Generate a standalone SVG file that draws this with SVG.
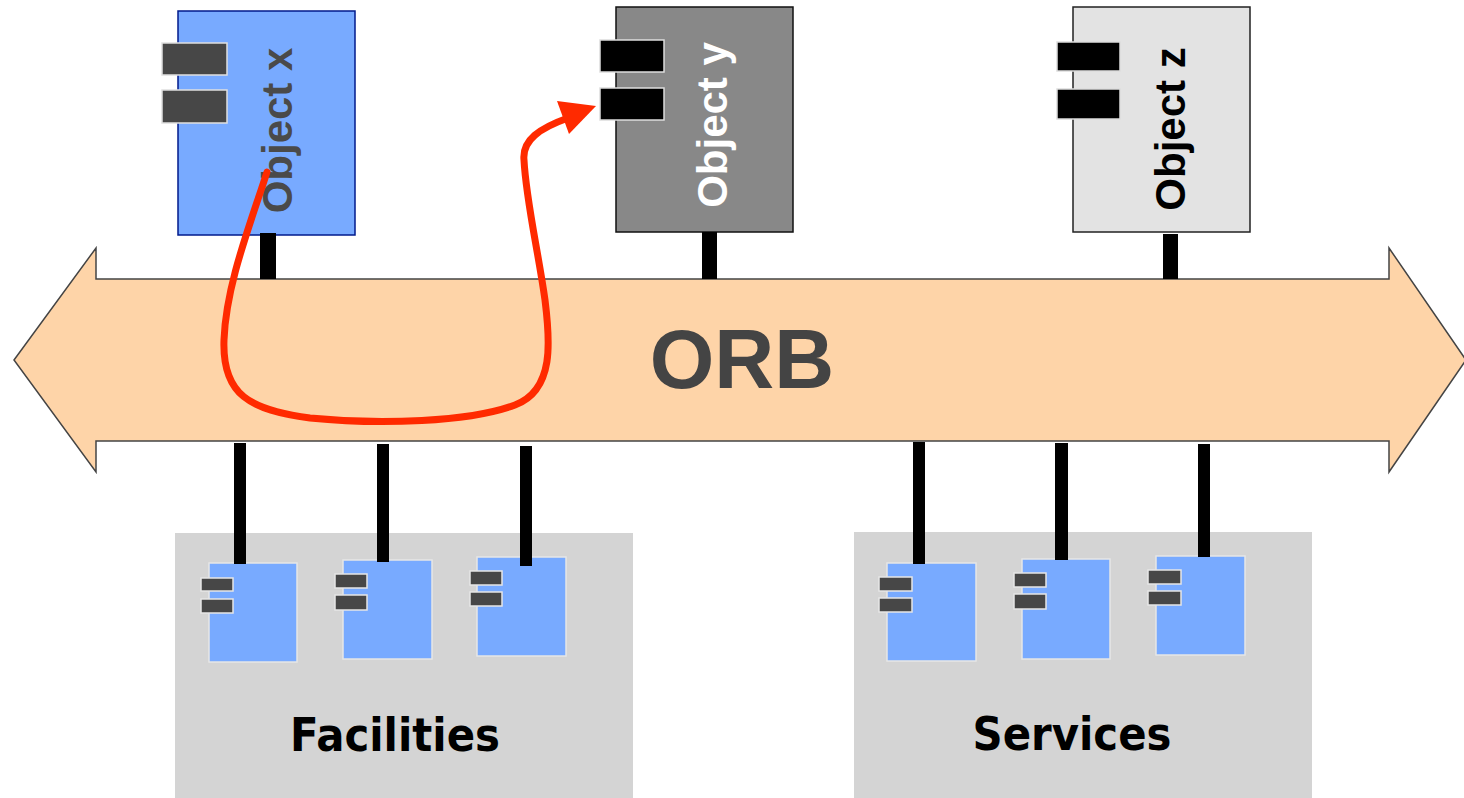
<svg xmlns="http://www.w3.org/2000/svg" width="1464" height="798" viewBox="0 0 1464 798">
<style>
.bold{font-family:"Liberation Sans",Arial,sans-serif;font-weight:bold}
.vbold{font-family:"DejaVu Sans",Verdana,sans-serif;font-weight:bold}
.mini{fill:#78aaff;stroke:#e6e6e6;stroke-width:1.5}
.mport{fill:#474747;stroke:#e6e6e6;stroke-width:1.5}
.stub{fill:#000}
.group{fill:#d4d4d4}
</style>
<rect width="1464" height="798" fill="#fff"/>
<!-- ORB bus -->
<g id="orb">
<polygon points="14,360 96,248 96,279 1389,279 1389,248 1466,360 1389,472 1389,441 96,441 96,472" fill="#fed4a8" stroke="#444" stroke-width="1.5"/>
<text x="742" y="388" class="bold" font-size="83" fill="#444" text-anchor="middle">ORB</text>
</g>
<!-- Object x -->
<g id="object-x">
<rect x="178" y="11" width="177" height="224" fill="#78aaff" stroke="#001a8c" stroke-width="1.5"/>
<rect x="162" y="43" width="65" height="32" fill="#474747" stroke="#e0e0e0" stroke-width="1.5"/>
<rect x="162" y="90" width="65" height="33" fill="#474747" stroke="#e0e0e0" stroke-width="1.5"/>
<text transform="translate(292,130.5) rotate(-90)" class="bold" font-size="42" fill="#4a4a4a" text-anchor="middle">Object x</text>
</g>
<!-- Object y -->
<g id="object-y">
<rect x="616" y="7" width="177" height="225" fill="#888" stroke="#111" stroke-width="1.5"/>
<rect x="600" y="40" width="64" height="32" fill="#000" stroke="#ddd" stroke-width="1.5"/>
<rect x="600" y="88" width="64" height="32" fill="#000" stroke="#ddd" stroke-width="1.5"/>
<text transform="translate(727,125) rotate(-90)" class="bold" font-size="42" fill="#fff" text-anchor="middle">Object y</text>
</g>
<!-- Object z -->
<g id="object-z">
<rect x="1073" y="7" width="177" height="225" fill="#e3e3e3" stroke="#222" stroke-width="1.5"/>
<rect x="1057" y="42" width="63" height="29" fill="#000" stroke="#ddd" stroke-width="1.5"/>
<rect x="1057" y="89" width="63" height="30" fill="#000" stroke="#ddd" stroke-width="1.5"/>
<text transform="translate(1185,129) rotate(-90)" class="bold" font-size="42" fill="#000" text-anchor="middle">Object z</text>
</g>
<!-- Facilities -->
<g id="facilities">
<rect class="group" x="175" y="533" width="458" height="265"/>
<rect class="mini" x="209" y="563" width="88" height="99"/>
<rect class="mport" x="201" y="578" width="32" height="13"/>
<rect class="mport" x="201" y="599" width="32" height="14"/>
<rect class="mini" x="343" y="560" width="89" height="99"/>
<rect class="mport" x="335" y="574" width="32" height="14"/>
<rect class="mport" x="335" y="595" width="32" height="15"/>
<rect class="mini" x="477" y="557" width="89" height="99"/>
<rect class="mport" x="470" y="571" width="32" height="14"/>
<rect class="mport" x="470" y="592" width="32" height="14"/>
<text x="395" y="751" class="vbold" font-size="46" fill="#000" text-anchor="middle" textLength="210" lengthAdjust="spacingAndGlyphs">Facilities</text>
</g>
<!-- Services -->
<g id="services">
<rect class="group" x="854" y="532" width="458" height="266"/>
<rect class="mini" x="887" y="563" width="89" height="98"/>
<rect class="mport" x="879" y="577" width="33" height="14"/>
<rect class="mport" x="879" y="598" width="33" height="14"/>
<rect class="mini" x="1022" y="559" width="88" height="100"/>
<rect class="mport" x="1014" y="573" width="32" height="14"/>
<rect class="mport" x="1014" y="594" width="32" height="15"/>
<rect class="mini" x="1156" y="556" width="89" height="99"/>
<rect class="mport" x="1148" y="570" width="33" height="14"/>
<rect class="mport" x="1148" y="591" width="33" height="14"/>
<text x="1072" y="750" class="vbold" font-size="46" fill="#000" text-anchor="middle" textLength="199" lengthAdjust="spacingAndGlyphs">Services</text>
</g>
<!-- stubs -->
<g id="connectors">
<rect class="stub" x="260" y="233" width="16" height="46"/>
<rect class="stub" x="702" y="232" width="15" height="47"/>
<rect class="stub" x="1163" y="234" width="15" height="45"/>
<rect class="stub" x="234" y="443" width="12" height="121"/>
<rect class="stub" x="377" y="444" width="12" height="118"/>
<rect class="stub" x="520" y="446" width="12" height="120"/>
<rect class="stub" x="913" y="442" width="12" height="122"/>
<rect class="stub" x="1055" y="443" width="13" height="117"/>
<rect class="stub" x="1198" y="444" width="12" height="113"/>
</g>
<!-- invocation arrow -->
<g id="invocation">
<path d="M267,172 C250,225 226,285 224,340 C222,395 250,410 310,418 C380,425 470,422 515,405 C555,390 550,340 545,300 C538,250 526,200 524,160 C522,140 540,128 568,118" fill="none" stroke="#ff2a00" stroke-width="7" stroke-linecap="round"/>
<polygon points="596,106 557,101 569,134" fill="#ff2a00"/>
</g>
</svg>
